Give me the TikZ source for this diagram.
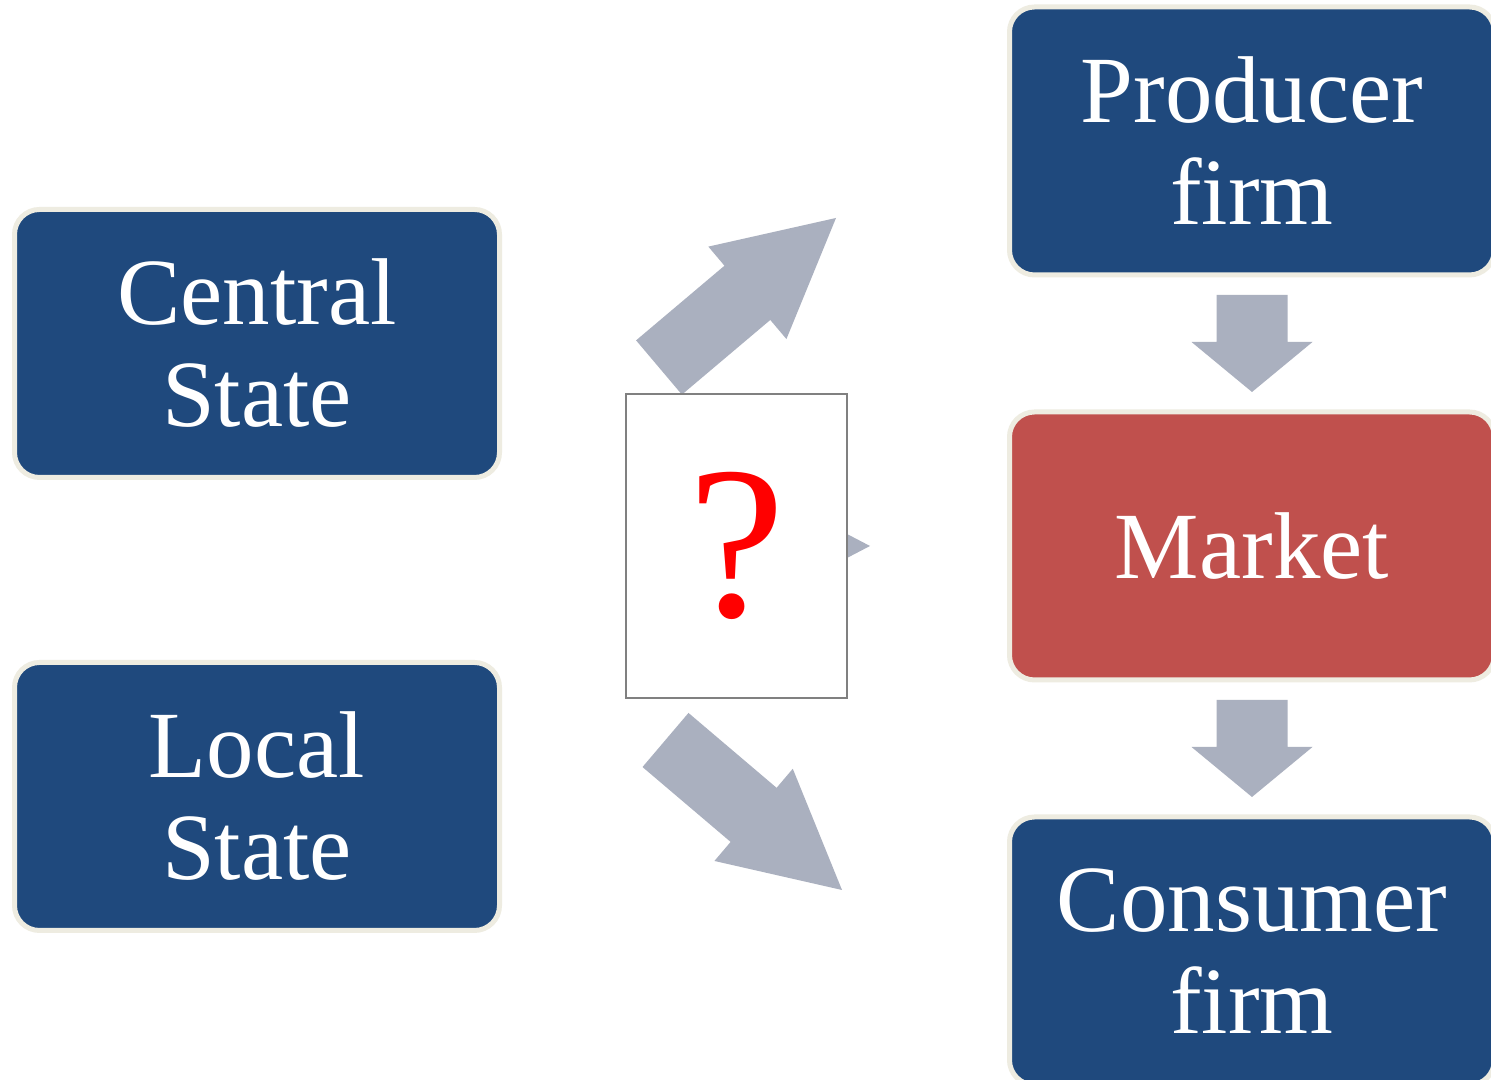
\documentclass[tikz,border=0pt]{standalone}
\usepackage{fontspec}
\setmainfont{Liberation Serif}
\usetikzlibrary{positioning,calc,backgrounds}

\definecolor{boxblue}{HTML}{1F497D}
\definecolor{boxred}{HTML}{C0504D}
\definecolor{boxrim}{HTML}{EEECE1}
\definecolor{arrowgray}{HTML}{AAB0BF}

\tikzstyle{block} = [rectangle, draw=boxrim, line width=0.05cm, fill=boxblue, text=white,
    text width=4.5cm, align=center, rounded corners=0.25cm, minimum width=4.85cm,
    minimum height=2.68cm, inner sep=0pt, font=\fontsize{27}{29}\selectfont]
\tikzstyle{query} = [rectangle, draw=black!50, line width=0.6pt, fill=white,
    minimum width=2.21cm, minimum height=3.04cm, inner sep=0pt, text=red,
    font=\fontsize{62}{62}\selectfont]
\tikzstyle{fat} = [fill=arrowgray]

% wide arrow: tail, tip, head length
\newcommand{\fatarrow}[3]{%
  \coordinate (base) at ($(#2)!#3!(#1)$);
  \fill [fat] ($(#1)!0.355cm!90:(#2)$) -- ($(base)!0.355cm!90:(#2)$)
    -- ($(base)!0.605cm!90:(#2)$) -- (#2) -- ($(base)!0.605cm!-90:(#2)$)
    -- ($(base)!0.355cm!-90:(#2)$) -- ($(#1)!0.355cm!-90:(#2)$) -- cycle;
}

\begin{document}
\begin{tikzpicture}
    \useasboundingbox (0,0) rectangle (14.91,10.8);

    % Nodes
    \node [block] (central) at (2.57,7.365) {Central\\State};
    \node [block, below of=central, node distance=4.53cm] (local) {Local\\State};

    \node [query] (query) at (7.365,5.34) {?};

    \node [block, fill=boxred, right of=query, node distance=5.155cm] (market) {Market};
    \node [block, above of=market, node distance=4.05cm] (producer) {Producer\\firm};
    \node [block, below of=market, node distance=4.05cm] (consumer) {Consumer\\firm};

    % Connections
    \coordinate (up-tail) at ([shift={(-0.775,1.785)}]query.center);
    \coordinate (up-tip) at ([shift={(0.995,3.28)}]query.center);
    \coordinate (mid-tail) at ([xshift=-0.985cm]query.center);
    \coordinate (mid-tip) at ([xshift=1.335cm]query.center);
    \coordinate (low-tail) at ([shift={(-0.71,-1.94)}]query.center);
    \coordinate (low-tip) at ([shift={(1.055,-3.44)}]query.center);
    \coordinate (pm-tail) at ([yshift=-0.175cm]producer.south);
    \coordinate (pm-tip) at ([yshift=0.175cm]market.north);
    \coordinate (mc-tail) at ([yshift=-0.175cm]market.south);
    \coordinate (mc-tip) at ([yshift=0.175cm]consumer.north);

    \begin{scope}[on background layer]
        \fill [white] (0,0) rectangle (14.91,10.8);
        \fatarrow{up-tail}{up-tip}{1.16cm}
        \fatarrow{mid-tail}{mid-tip}{1.16cm}
        \fatarrow{low-tail}{low-tip}{1.16cm}
        \fatarrow{pm-tail}{pm-tip}{0.5cm}
        \fatarrow{mc-tail}{mc-tip}{0.5cm}
    \end{scope}

\end{tikzpicture}
\end{document}
